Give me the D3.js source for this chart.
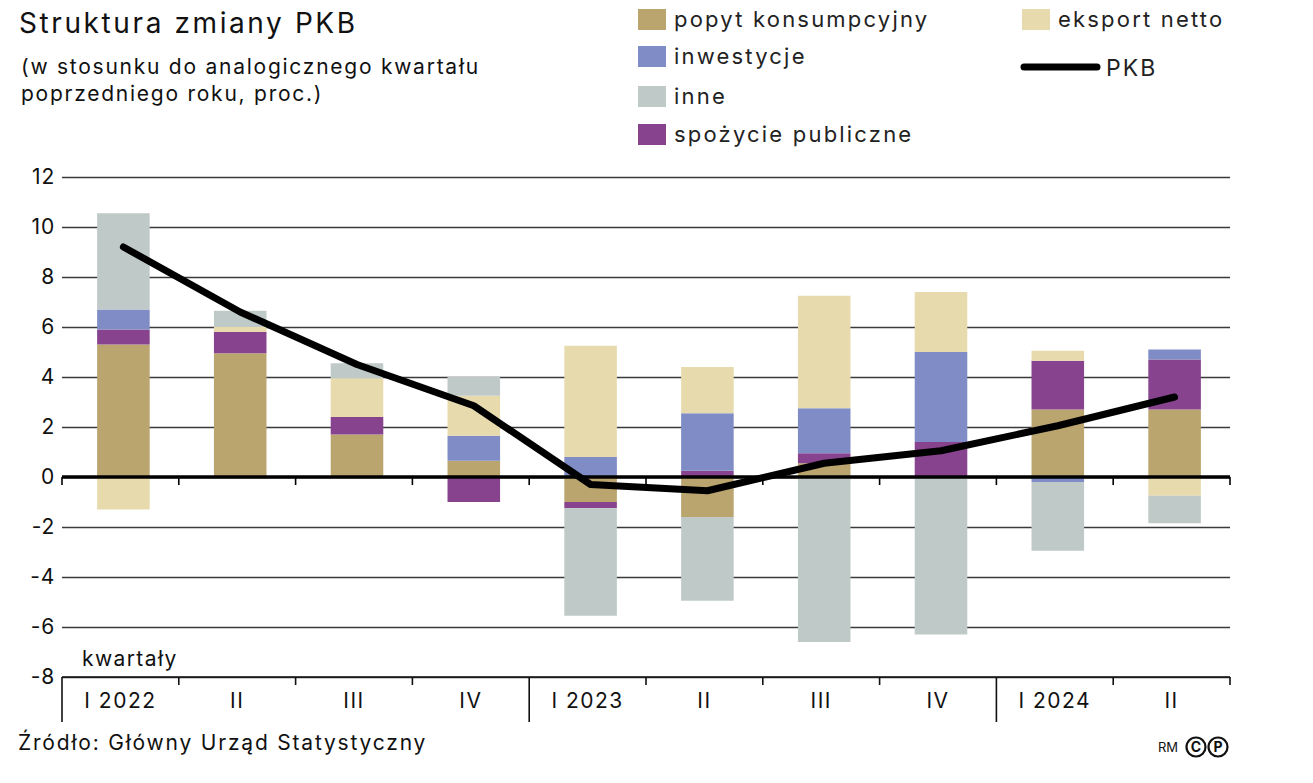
<!DOCTYPE html>
<html>
<head>
<meta charset="utf-8">
<script src="https://cdn.jsdelivr.net/npm/d3@7"></script>
<style>
	body { margin: 0; background: #fff; }
	svg { font-family: Inter, 'Noto Sans', sans-serif; }
	.grid line { stroke: #3a3a3a; stroke-width: 1.4; }
	.grid .domain { display: none; }
</style>
</head>
<body>
<div id="root"></div>
<script>
const quarters	= ['I 2022', 'II', 'III', 'IV', 'I 2023', 'II', 'III', 'IV', 'I 2024', 'II'];
const yearStart	= [0, 4, 8];

const popyt		= [5.3, 4.95, 1.7, 0.65, -1.0, -1.6, 0.55, 0, 2.7, 2.7];
const spozycie	= [0.6, 0.85, 0.7, -1.0, -0.25, 0.25, 0.4, 1.4, 1.95, 2.0];
const inwest	= [0.8, 0, 0, 1.0, 0.8, 2.3, 1.8, 3.6, -0.2, 0.4];
const eksport	= [-1.3, 0.2, 1.55, 1.6, 4.45, 1.85, 4.5, 2.4, 0.4, -0.75];
const inne		= [3.85, 0.65, 0.6, 0.75, -4.3, -3.35, -6.6, -6.3, -2.75, -1.1];
const pkb		= [9.2, 6.6, 4.5, 2.85, -0.3, -0.55, 0.55, 1.05, 2.05, 3.2];

const yTicks	= [-8, -6, -4, -2, 0, 2, 4, 6, 8, 10, 12];

// stacking order: bottom-up for positives, top-down for negatives
const series	= [
	{ key: 'popyt', label: 'popyt konsumpcyjny', color: '#baa56f', values: popyt },
	{ key: 'spozycie', label: 'spożycie publiczne', color: '#88438f', values: spozycie },
	{ key: 'inwest', label: 'inwestycje', color: '#7f8cc6', values: inwest },
	{ key: 'eksport', label: 'eksport netto', color: '#e7daad', values: eksport },
	{ key: 'inne', label: 'inne', color: '#bfcac8', values: inne },
];

const W = 1313, H = 783;
const margin = { top: 177, right: 83, bottom: 106, left: 62 };
const pw = W - margin.left - margin.right;
const ph = H - margin.top - margin.bottom;

const svg = d3.select('#root').append('svg')
	.attr('width', W)
	.attr('height', H);

// titles
svg.append('text').attr('x', 19).attr('y', 33)
	.style('font-size', '28px').style('letter-spacing', '2.6px').attr('fill', '#111')
	.text('Struktura zmiany PKB');
svg.append('text').attr('x', 21).attr('y', 74)
	.style('font-size', '21px').style('letter-spacing', '1.75px').attr('fill', '#111')
	.text('(w stosunku do analogicznego kwartału');
svg.append('text').attr('x', 21).attr('y', 101)
	.style('font-size', '21px').style('letter-spacing', '1.75px').attr('fill', '#111')
	.text('poprzedniego roku, proc.)');

// legend
const legendItems = [
	{ s: 'popyt', x: 638, y: 19 },
	{ s: 'inwest', x: 638, y: 56 },
	{ s: 'inne', x: 638, y: 96 },
	{ s: 'spozycie', x: 638, y: 134 },
	{ s: 'eksport', x: 1022, y: 19 },
];
const lg = svg.append('g').attr('class', 'legend');
legendItems.forEach((o) => {
	let s = series.find((d) => d.key == o.s);
	lg.append('rect').attr('x', o.x).attr('y', o.y - 10).attr('width', 28).attr('height', 21).attr('fill', s.color);
	lg.append('text').attr('x', o.x + 36).attr('y', o.y + 8)
		.style('font-size', '22px').style('letter-spacing', '2.2px').attr('fill', '#222')
		.text(s.label);
});
lg.append('line').attr('x1', 1024).attr('x2', 1097).attr('y1', 67).attr('y2', 67)
	.attr('stroke', '#000').attr('stroke-width', 7).attr('stroke-linecap', 'round');
lg.append('text').attr('x', 1106).attr('y', 76)
	.style('font-size', '23px').style('letter-spacing', '2px').attr('fill', '#222').text('PKB');

const g = svg.append('g').attr('transform', 'translate(' + margin.left + ',' + margin.top + ')');

const x = d3.scaleBand().domain(d3.range(quarters.length)).range([0, pw]).paddingInner(0.55).paddingOuter(0.275);
const y = d3.scaleLinear().domain([-8, 12]).range([ph, 0]);

// grid + y labels
const yAxis = g.append('g').attr('class', 'grid')
	.call(d3.axisLeft(y).tickValues(yTicks).tickSize(-pw).tickPadding(7).tickFormat((d) => String(d)));
yAxis.selectAll('text').style('font-size', '21px').style('letter-spacing', '0.8px').attr('fill', '#111').attr('font-family', 'Inter, sans-serif');

// stacked bars
const table = quarters.map((q, i) => {
	let row = { i: i };
	series.forEach((s) => { row[s.key] = s.values[i]; });
	return row;
});
const stack = d3.stack().keys(series.map((s) => s.key)).offset(d3.stackOffsetDiverging)(table);

g.selectAll('.layer').data(stack).enter().append('g')
	.attr('class', 'layer')
	.attr('fill', (d, i) => series[i].color)
	.selectAll('rect').data((d) => d).enter().append('rect')
	.attr('x', (d) => x(d.data.i) + 3)
	.attr('width', x.bandwidth())
	.attr('y', (d) => y(Math.max(d[0], d[1])))
	.attr('height', (d) => Math.abs(y(d[0]) - y(d[1])));

// zero line
const step = x.step();
const edges = d3.range(quarters.length + 1).map((i) => i * step);
g.append('line').attr('x1', 0).attr('x2', pw).attr('y1', y(0)).attr('y2', y(0))
	.attr('stroke', '#000').attr('stroke-width', 3.6);
g.selectAll('.ztick').data(edges).enter().append('line')
	.attr('x1', (d) => d).attr('x2', (d) => d)
	.attr('y1', y(0)).attr('y2', y(0) + 8)
	.attr('stroke', '#000').attr('stroke-width', 1.6);

// bottom axis
g.append('line').attr('x1', 0).attr('x2', pw).attr('y1', ph).attr('y2', ph)
	.attr('stroke', '#111').attr('stroke-width', 1.4);
g.selectAll('.btick').data(edges).enter().append('line')
	.attr('x1', (d) => d).attr('x2', (d) => d)
	.attr('y1', ph).attr('y2', (d, i) => (yearStart.includes(i) ? ph + 45 : ph + 8))
	.attr('stroke', '#111').attr('stroke-width', 1.6);

const xAxis = g.append('g').attr('transform', 'translate(0,' + ph + ')')
	.call(d3.axisBottom(x).tickSize(0).tickPadding(16).tickFormat((i) => quarters[i]));
xAxis.select('.domain').remove();
xAxis.selectAll('text').style('font-size', '21px').style('letter-spacing', '1.5px').attr('fill', '#111').attr('font-family', 'Inter, sans-serif');

g.append('text').attr('x', 20).attr('y', ph - 11)
	.style('font-size', '21px').style('letter-spacing', '1.4px').attr('fill', '#111').text('kwartały');

// PKB line
const line = d3.line()
	.x((d, i) => x(i) + 3 + x.bandwidth() / 2)
	.y((d) => y(d));
g.append('path').datum(pkb)
	.attr('fill', 'none').attr('stroke', '#000').attr('stroke-width', 7)
	.attr('stroke-linecap', 'round').attr('stroke-linejoin', 'round')
	.attr('d', line);

// footer
svg.append('text').attr('x', 18).attr('y', 750)
	.style('font-size', '21px').style('letter-spacing', '1.8px').attr('fill', '#111')
	.text('Źródło: Główny Urząd Statystyczny');
const cp = svg.append('g').attr('transform', 'translate(1158,747)');
cp.append('text').attr('x', 0).attr('y', 5).style('font-size', '13px').attr('fill', '#111').text('RM');
[{ cx: 38, t: 'C' }, { cx: 60, t: 'P' }].forEach((o) => {
	cp.append('circle').attr('cx', o.cx).attr('cy', 0).attr('r', 9.5).attr('fill', 'none').attr('stroke', '#111').attr('stroke-width', 2.2);
	cp.append('text').attr('x', o.cx).attr('y', 5).attr('text-anchor', 'middle')
		.style('font-size', '14px').style('font-weight', 'bold').attr('fill', '#111').text(o.t);
});
</script>
</body>
</html>
